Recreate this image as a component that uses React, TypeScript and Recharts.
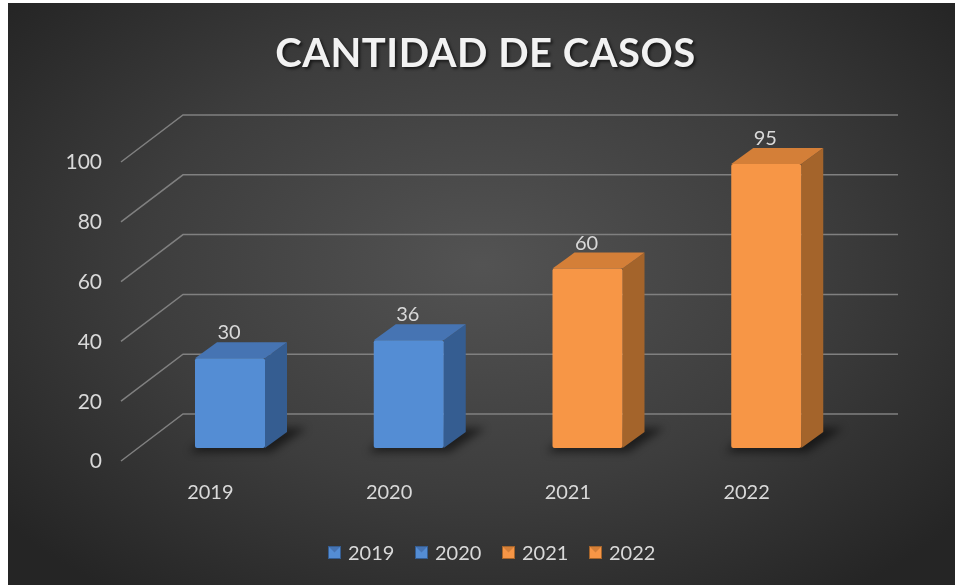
import { BarChart, Bar, XAxis, YAxis, CartesianGrid, LabelList } from 'recharts';

const years = ['2019', '2020', '2021', '2022'];
const casos = [30, 36, 60, 95];
const yTicks = [0, 20, 40, 60, 80, 100];

const data = years.map((year, i) => ({ year, casos: casos[i] }));

// colours per bar: front / top / side
const blue = { front: '#548DD4', top: '#4674B3', side: '#355D91' };
const orange = { front: '#F79646', top: '#D47F38', side: '#A4642B' };
const palette = [blue, blue, orange, orange];

// 3D offsets (px)
const FX = 20, FY = 13; // bar front plane vs floor front
const DX = 22, DY = 16; // bar depth
const GX = 62, GY = 47; // floor depth

const font = 'Lato, "Open Sans", sans-serif';
const txt = '#D9D9D9';

const Box3D = (props: any) => {
  const { x, y, width, height, index } = props;
  const c = palette[index % palette.length];
  const x0 = x + FX;
  const x1 = x0 + width;
  const top = y - FY;
  const base = y + height - FY;
  return (
    <g>
      <polygon
        points={`${x0 - 6},${base + 4} ${x1 + 6},${base + 4} ${x1 + 42},${base - 20} ${x0 + 22},${base - 20}`}
        fill="#000"
        opacity={0.55}
        filter="url(#soft)"
      />
      <polygon
        points={`${x1},${top} ${x1 + DX},${top - DY} ${x1 + DX},${base - DY} ${x1},${base}`}
        fill={c.side}
      />
      <polygon
        points={`${x0},${top} ${x0 + DX},${top - DY} ${x1 + DX},${top - DY} ${x1},${top}`}
        fill={c.top}
      />
      <rect x={x0} y={top} width={width} height={height} fill={c.front} rx={2} />
    </g>
  );
};

const gridLine = (p: any) => {
  const { x1, y1, x2 } = p;
  return (
    <path
      key={`g-${y1}`}
      d={`M${x1},${y1} L${x1 + GX},${y1 - GY} L${x2 + GX},${y1 - GY}`}
      stroke="#808080"
      strokeWidth={1.5}
      fill="none"
    />
  );
};

const valueLabel = (p: any) => {
  const { x, y, width, value } = p;
  return (
    <text
      x={x + width / 2 + FX - 1}
      y={y - 40}
      textAnchor="middle"
      dominantBaseline="central"
      fill={txt}
      fontSize={20}
      fontFamily={font}
    >
      {value}
    </text>
  );
};

const LegendIcon = ({ c }: { c: typeof blue }) => (
  <svg width={13} height={13} style={{ display: 'block' }}>
    <rect x={0} y={0} width={13} height={13} fill={c.side} />
    <rect x={1} y={1} width={11} height={11} fill={c.front} />
    <polygon points="1,1 12,1 6.5,6.5" fill={c.top} />
  </svg>
);

export default function App() {
  return (
    <div
      style={{
        position: 'fixed',
        left: 8,
        top: 3,
        width: 947,
        height: 582,
        background: 'radial-gradient(ellipse 65% 70% at 50% 45%, #535353 0%, #3d3d3d 55%, #252525 100%)',
        fontFamily: font,
        overflow: 'hidden',
      }}
    >
      <div
        style={{
          position: 'absolute',
          top: 29,
          left: 0,
          width: 955,
          height: 40,
          lineHeight: '40px',
          textAlign: 'center',
          color: '#F2F2F2',
          fontWeight: 700,
          fontSize: 40,
          letterSpacing: 0.5,
          textShadow: '2px 2px 3px rgba(0,0,0,0.6)',
        }}
      >
        CANTIDAD DE CASOS
      </div>

      <BarChart
        width={947}
        height={582}
        data={data}
        margin={{ top: 159, right: 119, left: 53, bottom: 94 }}
        style={{ position: 'absolute', left: 0, top: 0 }}
      >
        <defs>
          <filter id="soft" x="-50%" y="-50%" width="200%" height="200%">
            <feGaussianBlur stdDeviation={4} />
          </filter>
        </defs>
        <CartesianGrid vertical={false} horizontal={gridLine} />
        <XAxis
          dataKey="year"
          axisLine={false}
          tickLine={false}
          tickMargin={18}
          height={30}
          tick={{ fill: txt, fontSize: 20, fontFamily: font }}
        />
        <YAxis
          domain={[0, 100]}
          ticks={yTicks}
          axisLine={false}
          tickLine={false}
          tickMargin={13}
          width={60}
          tick={{ fill: txt, fontSize: 21, fontFamily: font }}
        />
        <Bar dataKey="casos" barSize={70} shape={Box3D} isAnimationActive={false}>
          <LabelList dataKey="casos" content={valueLabel} />
        </Bar>
      </BarChart>

      <div style={{ position: 'absolute', top: 537, left: 320, display: 'flex' }}>
        {years.map((yr, i) => (
          <div key={yr} style={{ width: 87, display: 'flex', alignItems: 'center', gap: 7 }}>
            <LegendIcon c={palette[i]} />
            <span style={{ color: txt, fontSize: 20, lineHeight: '24px' }}>{yr}</span>
          </div>
        ))}
      </div>
    </div>
  );
}
